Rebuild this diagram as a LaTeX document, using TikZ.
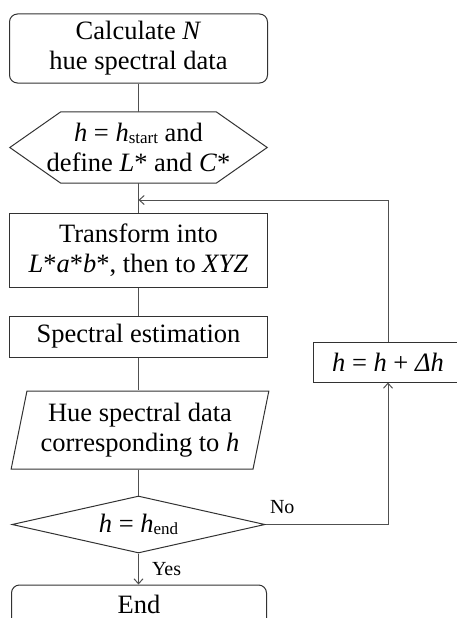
\documentclass[tikz,border=0pt]{standalone}
\usepackage{fontspec}
\setmainfont{Liberation Serif}
\usepackage{xcolor}
\definecolor{fcline}{RGB}{50,50,50}
\definecolor{fcwire}{RGB}{80,80,80}
\usetikzlibrary{arrows.meta, positioning, shapes.geometric}
\newcommand{\vr}[1]{\textit{#1}}
\newcommand{\lowsub}[1]{\raisebox{-1.5pt}{\fontsize{17}{17}\selectfont #1}}

\begin{document}
\begin{tikzpicture}[x=1pt, y=-1pt,
    every node/.style={font=\fontsize{26.5}{30}\selectfont, align=center, inner sep=0pt},
    fcbox/.style={draw=fcline, line width=1pt, minimum width=258pt},
    wire/.style={draw=fcwire, line width=1pt},
    tip/.style={wire, -{Straight Barb[length=5pt, width=9pt]}},
    lbl/.style={font=\fontsize{20}{22}\selectfont}]
  \useasboundingbox (0,0) rectangle (456,618);
  % Main column
  \node[fcbox, rounded corners=8pt, minimum height=69pt] (start) at (138.5,48.5)
        {Calculate \vr{N}\\hue spectral data};
  \node[minimum width=257pt, minimum height=71pt] (init) at (138.5,147.5)
        {\vr{h} = \vr{h}\lowsub{start} and\\define \vr{L}* and \vr{C}*};
  \draw[fcline, line width=1pt] (init.west) -- ([xshift=51pt]init.north west)
        -- ([xshift=-51pt]init.north east) -- (init.east)
        -- ([xshift=-51pt]init.south east) -- ([xshift=51pt]init.south west) -- cycle;
  \node[fcbox, minimum height=74pt] (conv) at (138.5,250)
        {Transform into\\\vr{L}*\vr{a}*\vr{b}*, then to \vr{XYZ}};
  \node[fcbox, minimum height=41pt] (est) at (138.5,336.5) {Spectral estimation};
  \node[fcbox, trapezium, trapezium left angle=75.6, trapezium right angle=104.4,
        trapezium stretches=true, minimum height=78pt] (data) at (140,430)
        {Hue spectral data\\corresponding to \vr{h}};
  \node[fcbox, diamond, aspect=4.4, minimum width=253pt, minimum height=57pt] (test) at (138.5,524.5)
        {\vr{h} = \vr{h}\lowsub{end}};
  \node[fcbox, rounded corners=8pt, minimum width=255pt, minimum height=42pt] (stop) at (139,606)
        {\raisebox{4pt}{End}};
  % Loop branch
  \node[fcbox, minimum width=150pt, minimum height=40pt] (inc) at (388,362)
        {\vr{h} = \vr{h} + \vr{Δh}};
  \coordinate (merge) at (138.5,200);
  % Connectors
  \draw[wire] (start) -- (init);
  \draw[wire] (init) -- (conv);
  \draw[wire] (conv) -- (est);
  \draw[wire] (est.south) -- (est.south |- data.north);
  \draw[wire] (test.north |- data.south) -- (test.north);
  \draw[tip] (test.south) -- (test.south |- stop.north) node[lbl, midway, right=13pt] {Yes};
  \draw[tip] (test.east) -| (inc.south)
        node[lbl, pos=0, anchor=south west, xshift=4pt, yshift=10pt] {No};
  \draw[tip] (inc.north) |- (merge);
\end{tikzpicture}
\end{document}
